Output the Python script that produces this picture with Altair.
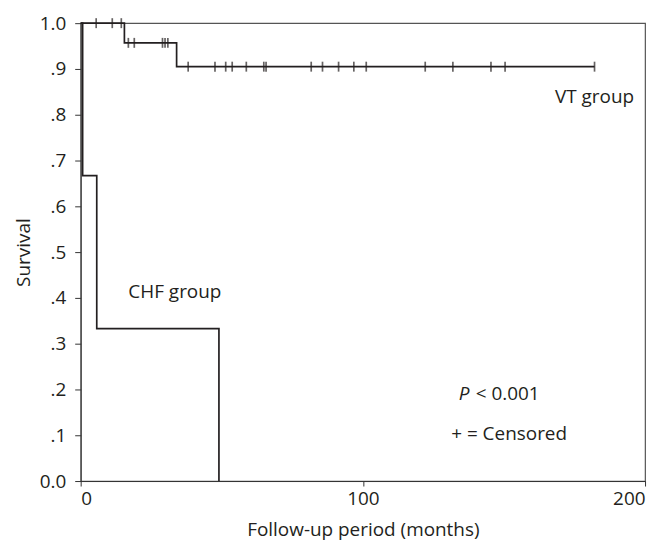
import altair as alt
import pandas as pd

# Kaplan-Meier step points (event times, survival after event)
vt_time = [0, 15.5, 34.0, 182.1]
vt_surv = [1.0, 0.957, 0.905, 0.905]
chf_time = [0, 0.7, 5.7, 49.0]
chf_surv = [1.0, 0.667, 0.333, 0.0]

# censored observations (VT group)
cens_time = [5.5, 11.2, 14.4,
             16.9, 19.0, 29.0, 29.9, 30.9,
             38.1, 47.6, 51.4, 53.7, 58.7, 64.9, 65.7, 81.7, 85.7, 91.4,
             96.8, 101.2, 122.1, 131.9, 145.4, 150.4, 182.1]
cens_surv = [1.0] * 3 + [0.957] * 5 + [0.905] * 17

y_ticks = [0.0, 0.1, 0.2, 0.3, 0.4, 0.5, 0.6, 0.7, 0.8, 0.9, 1.0]
x_ticks = [0, 100, 200]

label_text = ["VT group", "CHF group", "+ = Censored"]
label_t = [196.1, 16.9, 131.3]
label_s = [0.838, 0.413, 0.102]

p_text = ["P", "< 0.001"]
p_t = [134.0, 140.0]
p_s = [0.189, 0.189]

FONT = "Open Sans"
FS = 19
INK = "#231f20"

curves = pd.DataFrame({
    "t": vt_time + chf_time,
    "s": vt_surv + chf_surv,
    "g": ["VT"] * len(vt_time) + ["CHF"] * len(chf_time),
})
cens = pd.DataFrame({"t": cens_time, "s": cens_surv})
labels = pd.DataFrame({"t": label_t, "s": label_s, "txt": label_text})
pdf = pd.DataFrame({"t": p_t, "s": p_s, "txt": p_text})

xs = alt.Scale(domain=[0, 200], nice=False)
ys = alt.Scale(domain=[0, 1], nice=False)

x_enc = alt.X("t:Q", scale=xs, axis=alt.Axis(
    values=x_ticks, title="Follow-up period (months)", grid=False,
    labelFont=FONT, labelFontSize=FS, titleFont=FONT, titleFontSize=FS,
    titleFontWeight="normal", labelColor=INK, titleColor=INK,
    domainColor="#333", tickColor="#333", tickSize=5, labelPadding=4,
    titlePadding=12))
y_enc = alt.Y("s:Q", scale=ys, axis=alt.Axis(
    values=y_ticks, title="Survival", grid=False,
    labelExpr="datum.value == 0 ? '0.0' : (datum.value == 1 ? '1.0' : replace(format(datum.value, '.1f'), '0.', '.'))",
    labelFont=FONT, labelFontSize=FS, titleFont=FONT, titleFontSize=FS,
    titleFontWeight="normal", labelColor=INK, titleColor=INK,
    domainColor="#333", tickColor="#333", tickSize=6, labelPadding=9,
    titlePadding=6))

lines = alt.Chart(curves).mark_line(interpolate="step-after", color=INK, strokeWidth=1.7).encode(
    x=x_enc, y=y_enc, detail="g:N")

ticks = alt.Chart(cens).mark_tick(orient="vertical", color=INK, thickness=1.7, size=10).encode(
    x=alt.X("t:Q", scale=xs), y=alt.Y("s:Q", scale=ys))

vt_lbl = alt.Chart(labels.iloc[[0]]).mark_text(font=FONT, fontSize=FS, color=INK, baseline="middle", align="right").encode(
    x=alt.X("t:Q", scale=xs), y=alt.Y("s:Q", scale=ys), text="txt:N")
other_lbl = alt.Chart(labels.iloc[[1, 2]]).mark_text(font=FONT, fontSize=FS, color=INK, baseline="middle", align="left").encode(
    x=alt.X("t:Q", scale=xs), y=alt.Y("s:Q", scale=ys), text="txt:N")

p_lbl = alt.Chart(pdf.iloc[[0]]).mark_text(font=FONT, fontSize=FS, fontStyle="italic", color=INK, baseline="middle", align="left").encode(
    x=alt.X("t:Q", scale=xs), y=alt.Y("s:Q", scale=ys), text="txt:N")
p2_lbl = alt.Chart(pdf.iloc[[1]]).mark_text(font=FONT, fontSize=FS, color=INK, baseline="middle", align="left").encode(
    x=alt.X("t:Q", scale=xs), y=alt.Y("s:Q", scale=ys), text="txt:N")

chart = alt.layer(lines, ticks, vt_lbl, other_lbl, p_lbl, p2_lbl).properties(
    width=567, height=460,
    autosize=alt.AutoSizeParams(type="none"),
    padding={"left": 73, "top": 14, "right": 10, "bottom": 60},
    background="white",
).configure_view(stroke="#555", strokeWidth=1.2)

chart.save("out.html", embed_options={"renderer": "svg", "actions": False})
